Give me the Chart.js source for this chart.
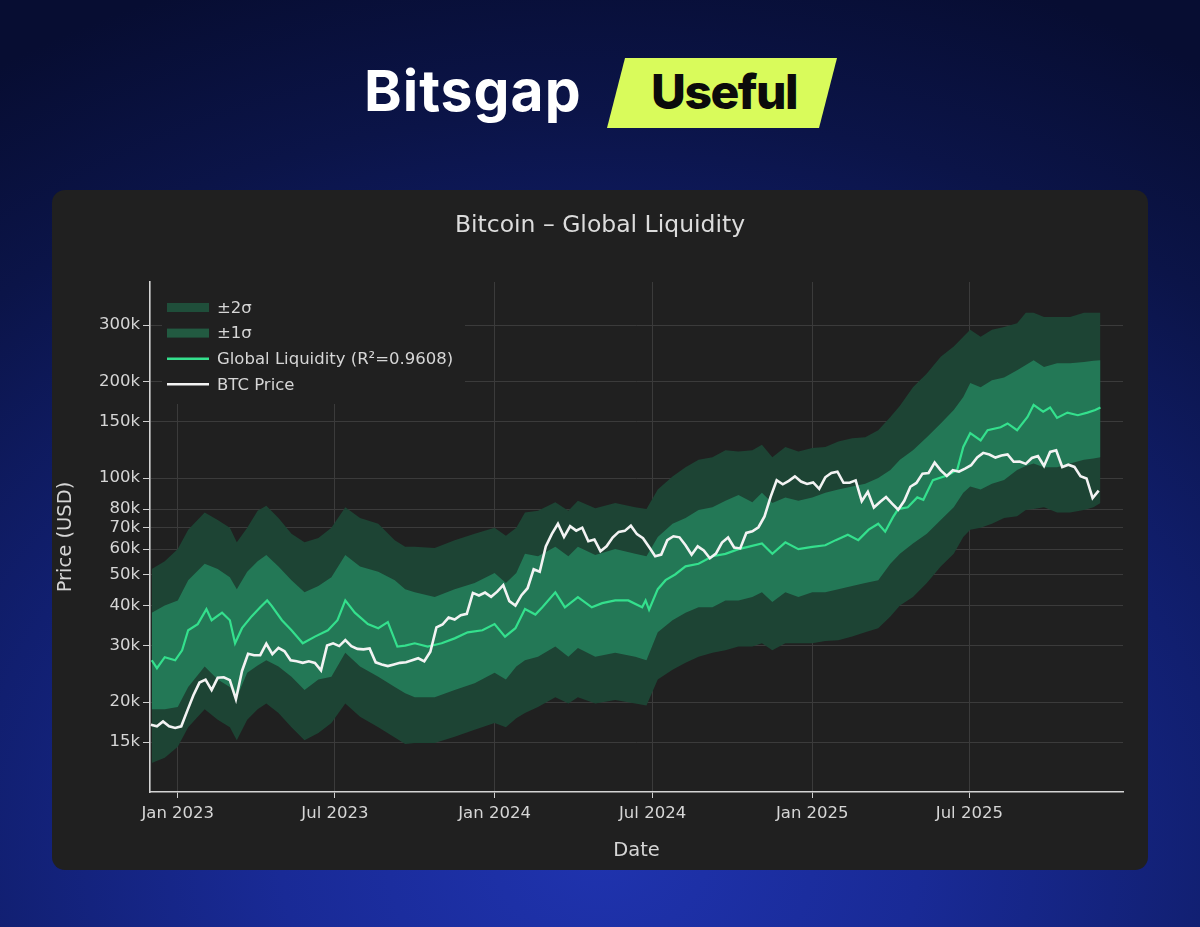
<!DOCTYPE html>
<html>
<head>
<meta charset="utf-8">
<title>Bitcoin – Global Liquidity</title>
<script src="https://cdn.jsdelivr.net/npm/chart.js@4.4.1/dist/chart.umd.min.js"></script>
<style>
  html, body { margin: 0; padding: 0; }
  body {
    width: 1200px; height: 927px; overflow: hidden; position: relative;
    background: radial-gradient(ellipse 95% 100% at 50% 92%, #1f33ae 0%, #192a96 28%, #111f70 55%, #0b1448 80%, #070d32 100%);
    font-family: "DejaVu Sans", sans-serif;
  }
  .brand {
    position: absolute; left: 364px; top: 62px; line-height: 1;
    font-family: Inter, sans-serif; font-weight: 700; font-size: 57px; color: #fff; letter-spacing: 1px;
  }
  .badge {
    position: absolute; left: 607px; top: 58px; width: 230px; height: 70px; background: #d9fb5b;
    clip-path: polygon(18px 0, 100% 0, calc(100% - 18px) 100%, 0 100%);
  }
  .badge span {
    position: absolute; left: 4px; right: 0; top: 10px; text-align: center; line-height: 1;
    font-family: Inter, sans-serif; font-weight: 800; font-size: 48px; color: #0b0b0b; letter-spacing: -1.5px;
  }
  .card {
    position: absolute; left: 52px; top: 190px; width: 1096px; height: 680px;
    background: #202020; border-radius: 13px; overflow: hidden;
  }
  .card .wrap { position: absolute; left: 0; top: 0; width: 1096px; height: 680px; }
</style>
</head>
<body>
<div class="brand">Bitsgap</div>
<div class="badge"><span>Useful</span></div>
<div class="card"><div class="wrap"><canvas id="liquidityChart"></canvas></div></div>

<script>
/* ---- data (USD thousands) ---- */
const btcStart = "2022-12-01";   // weekly samples from here
const btcK = [
  17.0, 16.8, 17.4, 16.8, 16.6,
  16.8, 18.8, 21.0, 23.0,
  23.5, 21.8, 23.8, 23.9,
  23.4, 20.4, 25.0, 28.3, 28.0,
  28.0, 30.4, 28.2, 29.5,
  28.8, 27.0, 26.8, 26.5,
  26.8, 26.5, 25.1, 30.0, 30.5,
  29.9, 31.2, 29.9, 29.3,
  29.2, 29.4, 26.6, 26.2, 25.9,
  26.2, 26.5, 26.6, 27.0,
  27.4, 26.8, 28.7, 34.2,
  34.9, 36.7, 36.2, 37.3, 37.7,
  43.8, 43.0, 43.9, 42.6,
  44.2, 46.3, 41.3, 40.0,
  43.1, 45.3, 51.9, 51.0, 61.2,
  66.9, 72.0, 65.5, 70.7,
  68.5, 70.0, 63.5, 64.3,
  59.1, 61.2, 65.2, 67.9, 68.4,
  71.0, 66.8, 64.9, 60.9,
  57.0, 57.7, 64.0, 65.8,
  65.3, 61.7, 57.6, 61.2, 59.4,
  56.2, 58.1, 62.9, 65.2,
  60.7, 60.3, 67.4, 68.2, 70.2,
  75.9, 87.3, 98.4, 95.6,
  98.0, 101.2, 97.5, 95.8,
  96.9, 92.5, 100.5, 103.7, 104.7,
  96.6, 96.6, 98.3, 84.7,
  90.6, 80.9, 84.2, 87.2,
  83.2, 79.6, 84.9, 93.9,
  96.5, 103.2, 103.7, 111.7, 105.6,
  101.5, 105.7, 104.6, 107.0,
  109.6, 116.0, 119.8, 118.4, 115.8,
  117.5, 118.4, 112.4, 112.6,
  110.7, 115.5, 117.1, 109.0,
  120.6, 122.0, 108.2, 110.0, 108.3,
  101.3, 99.7, 86.6, 91.3
];

const liqDates = [
  "2022-12-02", "2022-12-08", "2022-12-17", "2022-12-29", "2023-01-06", "2023-01-13", "2023-01-24",
  "2023-02-03", "2023-02-09", "2023-02-21", "2023-03-02", "2023-03-08", "2023-03-16", "2023-03-27",
  "2023-04-06", "2023-04-14", "2023-04-19", "2023-05-01", "2023-05-12", "2023-05-25", "2023-06-08",
  "2023-06-23", "2023-07-04", "2023-07-13", "2023-07-24", "2023-08-08", "2023-08-20", "2023-08-31",
  "2023-09-11", "2023-09-20", "2023-10-01", "2023-10-16", "2023-11-01", "2023-11-16", "2023-12-01",
  "2023-12-18", "2024-01-01", "2024-01-13", "2024-01-25", "2024-02-05", "2024-02-17", "2024-02-25",
  "2024-03-11", "2024-03-22", "2024-04-06", "2024-04-22", "2024-05-04", "2024-05-19", "2024-06-03",
  "2024-06-19", "2024-06-23", "2024-06-27", "2024-07-07", "2024-07-16", "2024-07-27", "2024-08-08",
  "2024-08-23", "2024-09-08", "2024-09-23", "2024-10-08", "2024-10-19", "2024-11-04", "2024-11-16",
  "2024-12-01", "2024-12-16", "2025-01-01", "2025-01-16", "2025-01-28", "2025-02-11", "2025-02-23",
  "2025-03-07", "2025-03-18", "2025-03-26", "2025-04-04", "2025-04-10", "2025-04-21", "2025-05-02",
  "2025-05-09", "2025-05-20", "2025-06-06", "2025-06-17", "2025-06-24", "2025-07-02", "2025-07-14",
  "2025-07-22", "2025-08-06", "2025-08-14", "2025-08-25", "2025-09-06", "2025-09-13", "2025-09-24",
  "2025-10-02", "2025-10-10", "2025-10-22", "2025-11-03", "2025-11-14", "2025-11-23", "2025-11-29"
];
const liqK = [
  27.0, 25.5, 27.6, 27.0, 29.0, 33.5, 35.0,
  39.0, 36.0, 38.0, 36.0, 30.5, 34.0, 37.0,
  39.5, 41.5, 40.0, 36.0, 33.5, 30.5, 32.0,
  33.5, 36.0, 41.5, 38.0, 35.0, 34.0, 35.5,
  29.8, 30.0, 30.5, 29.8, 30.5, 31.6, 33.0,
  33.5, 35.0, 32.0, 34.0, 39.0, 37.5, 39.5,
  44.0, 39.5, 42.5, 39.5, 40.7, 41.5, 41.5,
  39.5, 41.5, 38.8, 45.0, 48.0, 50.0, 53.0,
  54.0, 57.0, 58.0, 60.0, 61.0, 62.5, 58.0,
  63.0, 60.0, 61.0, 61.7, 64.0, 66.5, 64.0,
  69.0, 72.0, 68.0, 75.5, 80.0, 81.0, 87.0,
  85.5, 98.5, 102, 106, 125, 138, 131,
  141, 144, 148, 141, 155, 169, 161,
  166, 154, 160, 157, 160, 163, 166
];

const bandDates = [
  "2022-12-02", "2022-12-17", "2023-01-01", "2023-01-13", "2023-02-01", "2023-02-16", "2023-03-02",
  "2023-03-10", "2023-03-22", "2023-04-03", "2023-04-13", "2023-04-27", "2023-05-12", "2023-05-27",
  "2023-06-12", "2023-06-27", "2023-07-13", "2023-07-30", "2023-08-20", "2023-09-08", "2023-09-20",
  "2023-10-01", "2023-10-24", "2023-11-16", "2023-12-09", "2024-01-01", "2024-01-14", "2024-01-26",
  "2024-02-05", "2024-02-20", "2024-03-11", "2024-03-26", "2024-04-06", "2024-04-26", "2024-05-19",
  "2024-06-11", "2024-06-24", "2024-07-07", "2024-07-24", "2024-08-08", "2024-08-23", "2024-09-08",
  "2024-09-23", "2024-10-08", "2024-10-24", "2024-11-04", "2024-11-16", "2024-12-01", "2024-12-16",
  "2025-01-01", "2025-01-16", "2025-01-31", "2025-02-16", "2025-03-03", "2025-03-18", "2025-04-01",
  "2025-04-12", "2025-04-27", "2025-05-13", "2025-05-29", "2025-06-13", "2025-06-24", "2025-07-02",
  "2025-07-14", "2025-07-27", "2025-08-10", "2025-08-25", "2025-09-04", "2025-09-13", "2025-09-25",
  "2025-10-10", "2025-10-25", "2025-11-10", "2025-11-21", "2025-11-29"
];
const band2Up = [
  52, 55, 60, 69, 78, 74, 70,
  63, 70, 79, 82, 75, 67, 63,
  65, 70, 81, 75, 72, 64, 61,
  61, 60.5, 64, 67, 70, 66, 70,
  78, 79, 84, 79, 85, 80.5, 83.5,
  81, 80, 92, 101, 108, 114, 116,
  122, 121, 122, 127, 116, 125, 121,
  124, 125, 130, 133, 134, 141, 155,
  168, 192, 212, 239, 257, 276, 290,
  276, 290, 296, 304, 328, 328, 318,
  318, 318, 328, 328, 328
];
const band1Up = [
  38, 40, 41.5, 48, 54, 52, 49,
  45, 51, 55, 57.5, 53, 48, 44,
  46, 49, 57.5, 53, 51, 48, 45,
  44, 42.5, 45, 47, 50.5, 47, 50.5,
  58, 57, 61, 57, 61, 57.5, 60,
  58, 57, 65.5, 72, 75, 79.5, 81,
  85, 88.5, 84, 90, 83.5, 87, 85,
  87, 90, 92, 94, 96, 100, 106,
  114, 122, 134, 148, 163, 179, 198,
  192, 202, 206, 217, 225, 233, 222,
  228, 228, 230, 232, 233
];
const band1Lo = [
  19.0, 19.0, 19.3, 22.3, 25.8, 23.5, 22.3,
  20.7, 24.7, 26.0, 27.0, 25.8, 24.0, 21.8,
  23.5, 24.0, 28.5, 25.8, 24.0, 22.3, 21.3,
  20.7, 20.7, 21.8, 22.9, 24.7, 23.5, 25.8,
  27.0, 27.7, 29.8, 27.7, 29.5, 27.7, 28.5,
  27.7, 27.0, 33.0, 36.0, 38.0, 39.5, 39.5,
  41.5, 41.5, 42.5, 44.0, 41.0, 44.0, 42.5,
  44.0, 44.0, 45.0, 46.0, 47.0, 48.0, 54.0,
  58.0, 62.5, 67.0, 74.0, 81.0, 90.0, 94.0,
  92.0, 96.0, 98.5, 106, 109, 111, 108,
  108, 111, 114, 115, 116
];
const band2Lo = [
  12.9, 13.4, 14.5, 16.7, 19.0, 17.6, 16.7,
  15.2, 17.6, 19.0, 19.8, 18.5, 16.7, 15.2,
  16.0, 17.2, 19.8, 18.0, 16.7, 15.5, 14.8,
  14.9, 14.9, 15.6, 16.4, 17.2, 16.7, 17.8,
  18.5, 19.3, 20.7, 19.8, 20.7, 19.8, 20.3,
  19.8, 19.5, 23.5, 25.2, 26.5, 27.7, 28.5,
  29.0, 29.8, 29.8, 30.5, 29.0, 30.5, 30.5,
  30.5, 31.0, 31.2, 32.0, 33.0, 34.0, 37.0,
  40.0, 42.5, 47.0, 53.0, 58.0, 65.5, 69.0,
  70.0, 72.0, 75.0, 76.0, 79.5, 80.0, 81.0,
  78.0, 78.0, 79.5, 81.0, 83.5
];

const xTickDates = ["2023-01-01", "2023-07-01", "2024-01-01", "2024-07-01", "2025-01-01", "2025-07-01"];
const xTickLabels = ["Jan 2023", "Jul 2023", "Jan 2024", "Jul 2024", "Jan 2025", "Jul 2025"];
const yTicksK = [15, 20, 30, 40, 50, 60, 70, 80, 100, 150, 200, 300];
const xRange = ["2022-11-30", "2025-12-25"];
const yRangeK = [10.48, 408.8];

/* ---- helpers ---- */
const CARD_BG = "#202020";
const TEXT = "#d6d6d6";
const DAY_MS = 86400000;
const ms = s => Date.parse(s);
const pts = (dates, vals) => vals.map((v, i) => ({ x: ms(dates[i]), y: v }));
const btcPoints = btcK.map((v, i) => ({ x: ms(btcStart) + i * 7 * DAY_MS, y: v }));

Chart.defaults.font.family = "'DejaVu Sans', sans-serif";
Chart.defaults.color = TEXT;

const bandStyle = { borderColor: "rgba(0,0,0,0)", borderWidth: 0, pointRadius: 0, tension: 0, yAxisID: "y" };

// plotly-style legend sitting inside the plot, on an opaque box
const insideLegend = {
  id: "insideLegend",
  afterDraw(chart) {
    const { ctx, chartArea } = chart;
    const left = chartArea.left, top = chartArea.top;
    ctx.save();
    ctx.fillStyle = CARD_BG;
    ctx.fillRect(left + 12, top, 303, 122);
    ctx.font = "16.5px 'DejaVu Sans'";
    ctx.textBaseline = "middle";
    let row = 0;
    chart.data.datasets.forEach(ds => {
      if (ds.noLegend) return;
      const cy = top + 25.5 + row * 25.6;
      if (ds.swatch) {
        ctx.fillStyle = ds.swatch;
        ctx.fillRect(left + 17, cy - 4.5, 42, 9);
      } else {
        ctx.strokeStyle = ds.borderColor;
        ctx.lineWidth = 2.5;
        ctx.beginPath();
        ctx.moveTo(left + 17, cy);
        ctx.lineTo(left + 59, cy);
        ctx.stroke();
      }
      ctx.fillStyle = TEXT;
      ctx.fillText(ds.label, left + 67, cy + 1);
      row++;
    });
    ctx.restore();
  }
};

new Chart(document.getElementById("liquidityChart"), {
  type: "line",
  data: {
    datasets: [
      { label: "-2σ", data: pts(bandDates, band2Lo), ...bandStyle, fill: false, order: 5, noLegend: true },
      { label: "±2σ", data: pts(bandDates, band2Up), ...bandStyle, fill: 0, backgroundColor: "#1d4434", swatch: "#1f4e3a", order: 4 },
      { label: "-1σ", data: pts(bandDates, band1Lo), ...bandStyle, fill: false, order: 3, noLegend: true },
      { label: "±1σ", data: pts(bandDates, band1Up), ...bandStyle, fill: 2, backgroundColor: "#237856", swatch: "#225a41", order: 2 },
      { label: "Global Liquidity (R²=0.9608)", data: pts(liqDates, liqK), borderColor: "#34e08d", borderWidth: 2.2,
        pointRadius: 0, tension: 0, fill: false, order: 1, yAxisID: "y" },
      { label: "BTC Price", data: btcPoints, borderColor: "#f3f3f3", borderWidth: 2.6,
        pointRadius: 0, tension: 0, fill: false, order: 0, yAxisID: "y" }
    ]
  },
  options: {
    responsive: true,
    maintainAspectRatio: false,
    animation: false,
    events: [],
    layout: { padding: 0 },
    plugins: {
      legend: { display: false },
      tooltip: { enabled: false },
      title: {
        display: true, text: "Bitcoin – Global Liquidity", color: "#dcdcdc",
        font: { size: 23.5, weight: "normal" }, padding: { top: 21.5, bottom: 42.3 }
      }
    },
    scales: {
      x: {
        type: "linear", bounds: "data", min: ms(xRange[0]), max: ms(xRange[1]),
        afterBuildTicks: s => { s.ticks = xTickDates.map(d => ({ value: ms(d) })); },
        afterFit: s => { s.height = 78; },
        ticks: { autoSkip: false, maxRotation: 0, color: TEXT, font: { size: 16.5 }, padding: 6,
                 callback: (v, i) => xTickLabels[i] },
        grid: { color: "#3b3b3b", lineWidth: 1, tickColor: "#cfcfcf", tickLength: 6 },
        border: { color: "#d4d4d4", width: 1.6 },
        title: { display: true, text: "Date", color: TEXT, font: { size: 19.5 }, padding: { top: 0, bottom: 7.3 } }
      },
      y: {
        type: "logarithmic", bounds: "data", min: yRangeK[0], max: yRangeK[1],
        afterBuildTicks: s => { s.ticks = yTicksK.map(v => ({ value: v })); },
        afterFit: s => { s.width = 98; },
        ticks: { autoSkip: false, color: TEXT, font: { size: 16.5 }, padding: 3, callback: v => v + "k" },
        grid: { color: "#3b3b3b", lineWidth: 1, tickColor: "#cfcfcf", tickLength: 7 },
        border: { color: "#d4d4d4", width: 1.6 },
        title: { display: true, text: "Price (USD)", color: TEXT, font: { size: 19.5 }, padding: { top: 2.3, bottom: 0 } }
      },
      yPad: {
        type: "linear", axis: "y", position: "right", display: true,
        grid: { display: false, drawTicks: false }, border: { display: false }, ticks: { display: false },
        afterFit: s => { s.width = 25; }
      }
    }
  },
  plugins: [insideLegend]
});
</script>
</body>
</html>
